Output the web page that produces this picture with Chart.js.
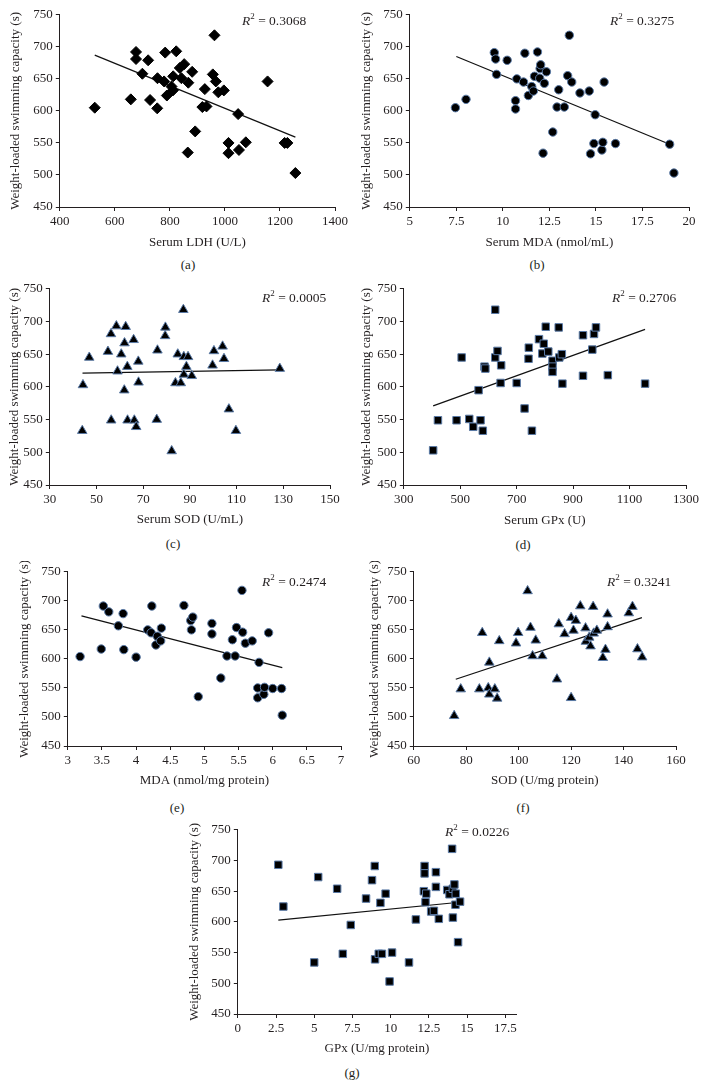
<!DOCTYPE html>
<html>
<head>
<meta charset="utf-8">
<script src="https://cdn.jsdelivr.net/npm/chart.js@4.4.1/dist/chart.umd.min.js"></script>
<style>
  body { margin: 0; width: 706px; height: 1088px; position: relative; overflow: hidden; background: #fff;
         font-family: "Liberation Serif", "Times New Roman", serif; color: #231f20; }
  canvas { position: absolute; }
  .sub { position: absolute; font-size: 13px; transform: translate(-50%, -50%); white-space: nowrap; }
  .r2 { position: absolute; font-size: 13.5px; transform: translateY(-50%); white-space: nowrap; }
  .r2 sup { font-size: 9px; vertical-align: 6px; line-height: 0; }
</style>
</head>
<body>
<script>
// swimming capacity vs. each marker
const ldhX = [527, 658, 677, 677, 700, 721, 728, 754, 755, 779, 783, 789, 806, 811, 812, 823, 836, 842, 852, 867, 865, 881, 892, 918, 933, 927, 956, 962, 967, 976, 996, 1013, 1013, 1048, 1051, 1076, 1155, 1217, 1227, 1256];
const ldhY = [605, 618, 692, 681, 658, 679, 617, 604, 651, 646, 691, 624, 638, 632, 654, 693, 667, 651, 673, 644, 535, 661, 568, 606, 607, 634, 657, 718, 646, 629, 632, 550, 534, 595, 539, 551, 646, 550, 550, 503];
const ldhTrendX = [527, 1256];
const ldhTrendY = [687, 559];

const mdaX = [7.45, 8.02, 9.54, 9.61, 9.66, 10.23, 10.68, 10.68, 10.75, 11.11, 11.18, 11.37, 11.55, 11.64, 11.7, 11.86, 12.0, 12.03, 11.98, 12.23, 12.34, 12.16, 12.68, 12.91, 13.3, 13.0, 13.48, 13.57, 13.7, 14.14, 14.64, 14.96, 14.89, 14.71, 15.32, 15.37, 15.44, 16.05, 18.96, 19.19];
const mdaY = [605, 618, 691, 681, 657, 679, 616, 603, 650, 645, 690, 624, 638, 631, 654, 692, 666, 672, 651, 643, 661, 534, 567, 606, 606, 633, 655, 718, 645, 628, 631, 594, 549, 533, 539, 551, 645, 549, 548, 503];
const mdaTrendX = [7.5, 18.96];
const mdaTrendY = [685, 548];

const sodX = [44.2, 43.9, 46.9, 54.9, 56.2, 56.3, 58.5, 59.0, 60.6, 61.9, 62.0, 62.5, 63.2, 63.3, 65.9, 66.2, 67.0, 67.9, 68.0, 75.8, 76.1, 79.4, 79.5, 82.2, 83.8, 84.8, 86.1, 87.2, 87.4, 87.4, 89.2, 88.5, 90.8, 99.7, 100.3, 104.0, 104.6, 106.7, 109.7, 128.5];
const sodY = [603, 533, 645, 654, 681, 549, 693, 624, 650, 595, 667, 692, 631, 549, 672, 549, 539, 639, 607, 550, 656, 678, 691, 502, 606, 650, 606, 718, 646, 619, 646, 631, 617, 633, 655, 662, 643, 566, 533, 628];
const sodTrendX = [44, 128.5];
const sodTrendY = [621, 626];

const gpxX = [404, 421, 487, 505, 532, 546, 565, 572, 580, 586, 589, 624, 624, 632, 643, 645, 700, 728, 742, 743, 754, 779, 791, 796, 803, 812, 827, 827, 827, 849, 851, 860, 862, 935, 935, 968, 974, 981, 1023, 1155];
const gpxY = [503, 549, 549, 645, 551, 539, 595, 549, 533, 631, 628, 718, 645, 655, 606, 633, 606, 567, 643, 660, 533, 673, 651, 666, 692, 654, 640, 631, 623, 691, 645, 650, 605, 617, 679, 657, 681, 691, 618, 605];
const gpxTrendX = [404, 1155];
const gpxTrendY = [571, 688];

const tMdaX = [3.18, 3.49, 3.52, 3.6, 3.74, 3.81, 3.82, 4.0, 4.17, 4.23, 4.22, 4.29, 4.31, 4.36, 4.37, 4.7, 4.8, 4.83, 4.81, 4.91, 5.11, 5.11, 5.24, 5.33, 5.41, 5.45, 5.47, 5.55, 5.56, 5.6, 5.7, 5.8, 5.78, 5.78, 5.87, 5.88, 5.94, 6.0, 6.13, 6.14];
const tMdaY = [604, 617, 691, 681, 657, 678, 616, 603, 650, 691, 645, 624, 639, 631, 653, 692, 666, 672, 650, 535, 661, 643, 567, 605, 633, 605, 654, 718, 646, 627, 631, 594, 550, 533, 539, 551, 645, 549, 549, 503];
const tMdaTrendX = [3.2, 6.14];
const tMdaTrendY = [674, 585];

const tSodX = [75.4, 77.9, 85.0, 86.1, 88.4, 88.8, 88.8, 90.9, 91.8, 92.6, 99.0, 99.8, 103.4, 104.5, 105.3, 106.5, 109.0, 114.6, 115.3, 117.5, 120.0, 120.0, 120.9, 121.8, 123.5, 125.5, 125.6, 126.9, 127.4, 128.4, 128.6, 129.8, 133.1, 132.1, 133.9, 133.9, 142.0, 143.4, 145.3, 147.1];
const tSodY = [502, 548, 548, 645, 550, 539, 594, 548, 532, 631, 627, 645, 717, 654, 605, 632, 605, 565, 660, 643, 671, 533, 649, 666, 691, 653, 630, 637, 622, 690, 644, 649, 616, 602, 677, 655, 679, 690, 617, 603];
const tSodTrendX = [76, 147];
const tSodTrendY = [565, 671];

const tGpxX = [2.65, 2.98, 5.0, 5.26, 6.5, 6.87, 7.39, 8.39, 8.78, 8.96, 8.98, 9.22, 9.33, 9.43, 9.67, 9.93, 10.09, 11.2, 11.65, 12.17, 12.22, 12.22, 12.33, 12.28, 12.65, 12.83, 12.96, 12.96, 13.15, 13.7, 13.85, 14.02, 14.07, 14.07, 14.17, 14.26, 14.24, 14.41, 14.54];
const tGpxY = [693, 625, 534, 673, 654, 548, 595, 638, 668, 691, 539, 548, 631, 548, 646, 503, 550, 534, 604, 650, 691, 679, 646, 632, 617, 618, 681, 657, 605, 652, 645, 719, 654, 607, 661, 646, 628, 567, 633];
const tGpxTrendX = [2.65, 14.5];
const tGpxTrendY = [603, 632];

const yTicks = { min: 450, max: 750, step: 50 };
const yTitle = 'Weight-loaded swimming capacity (s)';

const ink = '#231f20';
const font = { family: '"Liberation Serif", "Times New Roman", serif', size: 13 };

function toPoints(xs, ys) {
    return xs.map((x, i) => ({ x: x, y: ys[i] }));
}

function addText(cls, html, x, y) {
    const d = document.createElement('div');
    d.className = cls;
    d.innerHTML = html;
    d.style.left = x + 'px';
    d.style.top = y + 'px';
    document.body.appendChild(d);
}

// g: plot box in page px (l, r, t, b), y-title centre x, x-title centre y
function panel(g, xs, ys, trendX, trendY, xMin, xMax, xStep, xTitle, marker, r2, sub) {
    const left = g.yt - 7.8;
    const top = g.t - 10;
    const width = g.r + 20 - left;
    const height = g.xt + 8 - top;
    const canvas = document.createElement('canvas');
    canvas.width = width;
    canvas.height = height;
    canvas.style.left = left + 'px';
    canvas.style.top = top + 'px';
    document.body.appendChild(canvas);

    const axisGrid = { display: true, drawOnChartArea: false, drawTicks: true, tickLength: 4, color: ink };
    new Chart(canvas.getContext('2d'), {
        type: 'scatter',
        data: {
            datasets: [{
                data: toPoints(xs, ys),
                pointStyle: marker.style,
                pointRadius: marker.r,
                pointHoverRadius: marker.r,
                backgroundColor: '#000',
                borderColor: marker.edge,
                borderWidth: 1,
                order: 1
            }, {
                type: 'line',
                data: toPoints(trendX, trendY),
                borderColor: '#111',
                borderWidth: 1.2,
                pointRadius: 0,
                fill: false,
                order: 2
            }]
        },
        options: {
            responsive: false,
            animation: false,
            devicePixelRatio: 1,
            layout: { padding: { top: 10, right: 20, left: 0, bottom: 0 }, autoPadding: false },
            plugins: { legend: { display: false }, tooltip: { enabled: false } },
            scales: {
                x: {
                    type: 'linear',
                    min: xMin,
                    max: xMax,
                    afterFit: s => { s.height = g.xt + 8 - g.b; },
                    ticks: { stepSize: xStep, includeBounds: false, color: ink, font: font, padding: 3,
                             maxRotation: 0, autoSkip: false, callback: v => String(v) },
                    grid: axisGrid,
                    border: { display: true, color: ink, width: 1 },
                    title: { display: true, text: xTitle, color: ink, font: font, padding: 0 }
                },
                y: {
                    min: yTicks.min,
                    max: yTicks.max,
                    afterFit: s => { s.width = g.l - left; },
                    ticks: { stepSize: yTicks.step, color: ink, font: font, padding: 3, callback: v => String(v) },
                    grid: axisGrid,
                    border: { display: true, color: ink, width: 1 },
                    title: { display: true, text: yTitle, color: ink, font: font, padding: 0 }
                }
            }
        }
    });

    addText('r2', '<i>R</i><sup>2</sup> = ' + r2.text, r2.x, r2.y);
    addText('sub', sub.text, sub.x, sub.y);
}

const diamond = { style: 'rectRot', r: 5.5, edge: '#000' };
const dot = { style: 'circle', r: 4.2, edge: '#5a7aa6' };
const tri = { style: 'triangle', r: 5.5, edge: '#5a7aa6' };
const sq = { style: 'rect', r: 5.3, edge: '#5a7aa6' };

panel({ l: 60, r: 336, t: 14, b: 207, yt: 16, xt: 242 }, ldhX, ldhY, ldhTrendX, ldhTrendY,
      400, 1400, 200, 'Serum LDH (U/L)', diamond, { text: '0.3068', x: 242, y: 21 }, { text: '(a)', x: 188, y: 265 });
panel({ l: 410, r: 690, t: 14, b: 207, yt: 367, xt: 242 }, mdaX, mdaY, mdaTrendX, mdaTrendY,
      5, 20, 2.5, 'Serum MDA (nmol/mL)', dot, { text: '0.3275', x: 610, y: 21 }, { text: '(b)', x: 537, y: 265 });
panel({ l: 50, r: 331, t: 288, b: 485, yt: 15, xt: 519 }, sodX, sodY, sodTrendX, sodTrendY,
      30, 150, 20, 'Serum SOD (U/mL)', tri, { text: '0.0005', x: 262, y: 298 }, { text: '(c)', x: 173, y: 544 });
panel({ l: 404, r: 687, t: 288, b: 485, yt: 367, xt: 520 }, gpxX, gpxY, gpxTrendX, gpxTrendY,
      300, 1300, 200, 'Serum GPx (U)', sq, { text: '0.2706', x: 612, y: 298 }, { text: '(d)', x: 523, y: 545 });
panel({ l: 68, r: 342, t: 571, b: 746, yt: 25, xt: 780 }, tMdaX, tMdaY, tMdaTrendX, tMdaTrendY,
      3, 7, 0.5, 'MDA (nmol/mg protein)', dot, { text: '0.2474', x: 262, y: 582 }, { text: '(e)', x: 177, y: 808 });
panel({ l: 414, r: 677, t: 571, b: 746, yt: 375, xt: 780 }, tSodX, tSodY, tSodTrendX, tSodTrendY,
      60, 160, 20, 'SOD (U/mg protein)', tri, { text: '0.3241', x: 607, y: 582 }, { text: '(f)', x: 523, y: 808 });
panel({ l: 238, r: 517, t: 829, b: 1014, yt: 195, xt: 1048 }, tGpxX, tGpxY, tGpxTrendX, tGpxTrendY,
      0, 18.2, 2.5, 'GPx (U/mg protein)', sq, { text: '0.0226', x: 445, y: 832 }, { text: '(g)', x: 352, y: 1073 });
</script>
</body>
</html>
